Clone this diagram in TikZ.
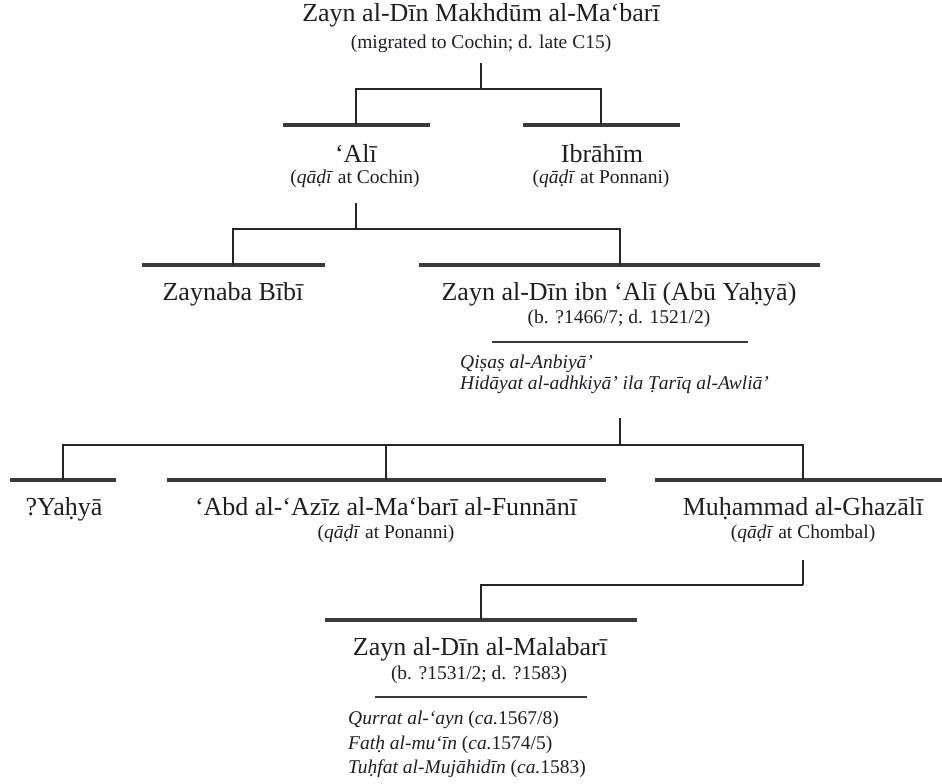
\documentclass[tikz,border=0pt]{standalone}
\usepackage{fontspec}
\setmainfont{Liberation Serif}
\definecolor{ink}{HTML}{1E1E24}
\definecolor{barcol}{HTML}{3A3A3A}
\definecolor{linkcol}{HTML}{262626}
\tikzset{
  person/.style={font=\fontsize{26}{30}\selectfont, text=ink, inner sep=0pt, anchor=base},
  persnote/.style={font=\fontsize{19.5}{22}\selectfont, text=ink, inner sep=0pt, anchor=base},
  worktxt/.style={font=\fontsize{19.5}{22}\selectfont, text=ink, inner sep=0pt, anchor=base west},
  bar/.style={line width=3.2pt, draw=barcol},
  link/.style={line width=2.3pt, draw=linkcol},
  rule/.style={line width=2.6pt, draw=barcol},
}
\begin{document}
\begin{tikzpicture}[x=1pt,y=-1pt]
\useasboundingbox (0,0) rectangle (942,784);

% ---------- generation 0
\node[person]   (n0)  at (481,22)   {Zayn al-Dīn Makhdūm al-Ma‘barī};
\node[persnote] (n0s) at (481,48.5) {(migrated to Cochin; d. late C15)};
\coordinate (s0) at (481,63);
\coordinate (j0) at (481,89);

% ---------- generation 1
\coordinate (b1l) at (283,125); \coordinate (b1r) at (430,125); \coordinate (b1) at (356,125);
\coordinate (b2l) at (523,125); \coordinate (b2r) at (680,125); \coordinate (b2) at (601,125);
\node[person]   (ali)   at (356,162.5) {‘Alī};
\node[persnote] (alis)  at (355,183.5) {(\textit{qāḍī} at Cochin)};
\node[person]   (ibr)   at (602,162.5) {Ibrāhīm};
\node[persnote] (ibrs)  at (601,183.5) {(\textit{qāḍī} at Ponnani)};
\coordinate (s1) at (356,203);
\coordinate (j1) at (356,229);

% ---------- generation 2
\coordinate (b21l) at (142,265); \coordinate (b21r) at (325,265); \coordinate (b21) at (233,265);
\coordinate (b22l) at (419,265); \coordinate (b22r) at (820,265); \coordinate (b22) at (620,265);
\node[person]   (zay)  at (233,300) {Zaynaba Bībī};
\node[person]   (zda)  at (619,300) {Zayn al-Dīn ibn ‘Alī (Abū Yaḥyā)};
\node[persnote] (zdas) at (619,323.5) {(b. ?1466/7; d. 1521/2)};
\coordinate (u2l) at (492,342); \coordinate (u2r) at (748,342);
\node[worktxt] (w21) at (460,368.5) {\textit{Qiṣaṣ al-Anbiyā’}};
\node[worktxt] (w22) at (460,389.5) {\textit{Hidāyat al-adhkiyā’ ila Ṭarīq al-Awliā’}};
\coordinate (s2) at (620,418);
\coordinate (j2) at (620,445);

% ---------- generation 3
\coordinate (b31l) at (10,480);  \coordinate (b31r) at (116,480); \coordinate (b31) at (63,480);
\coordinate (b32l) at (167,480); \coordinate (b32r) at (606,480); \coordinate (b32) at (386,480);
\coordinate (b33l) at (655,480); \coordinate (b33r) at (942,480); \coordinate (b33) at (803,480);
\node[person]   (yah)  at (64,515)  {?Yaḥyā};
\node[person]   (abd)  at (386,515) {‘Abd al-‘Azīz al-Ma‘barī al-Funnānī};
\node[persnote] (abds) at (386,538) {(\textit{qāḍī} at Ponanni)};
\node[person]   (muh)  at (803,515) {Muḥammad al-Ghazālī};
\node[persnote] (muhs) at (803,538) {(\textit{qāḍī} at Chombal)};
\coordinate (s3) at (803,560);
\coordinate (j3) at (803,585);

% ---------- generation 4
\coordinate (b4l) at (325,620); \coordinate (b4r) at (637,620); \coordinate (b4) at (481,620);
\node[person]   (mal)  at (480,655) {Zayn al-Dīn al-Malabarī};
\node[persnote] (mals) at (479,679) {(b. ?1531/2; d. ?1583)};
\coordinate (u4l) at (375,697); \coordinate (u4r) at (587,697);
\node[worktxt] (w41) at (348,724.5) {\textit{Qurrat al-‘ayn} (\textit{ca.}1567/8)};
\node[worktxt] (w42) at (348,749)   {\textit{Fatḥ al-mu‘īn} (\textit{ca.}1574/5)};
\node[worktxt] (w43) at (348,773)   {\textit{Tuḥfat al-Mujāhidīn} (\textit{ca.}1583)};

% ---------- bars
\draw[bar] (b1l) -- (b1r);
\draw[bar] (b2l) -- (b2r);
\draw[bar] (b21l) -- (b21r);
\draw[bar] (b22l) -- (b22r);
\draw[bar] (b31l) -- (b31r);
\draw[bar] (b32l) -- (b32r);
\draw[bar] (b33l) -- (b33r);
\draw[bar] (b4l) -- (b4r);
\draw[rule] (u2l) -- (u2r);
\draw[rule] (u4l) -- (u4r);

% ---------- connectors
\draw[link] (s0) -- (j0);
\draw[link] (b1) |- (j0) -| (b2);
\draw[link] (s1) -- (j1);
\draw[link] (b21) |- (j1) -| (b22);
\draw[link] (s2) -- (j2);
\draw[link] (b31) |- (j2) -| (b33);
\draw[link] (b32) -- (b32 |- j2);
\draw[link] (s3) -- (j3);
\draw[link] (b4) |- (j3);
\end{tikzpicture}
\end{document}
